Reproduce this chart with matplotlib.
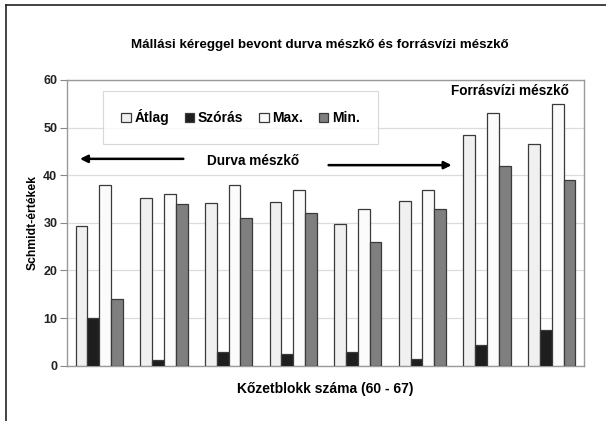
import matplotlib
matplotlib.use("Agg")
import matplotlib.pyplot as plt
import numpy as np
from matplotlib.lines import Line2D

plt.rcParams["font.family"] = ["Liberation Sans", "DejaVu Sans"]
plt.rcParams["font.weight"] = "bold"

# Schmidt values per rock block (60-67)
blocks = ["60", "61", "62", "63", "64", "65", "66", "67"]
atlag = [29.4, 35.2, 34.2, 34.4, 29.8, 34.6, 48.4, 46.6]
szoras = [10.1, 1.2, 2.9, 2.4, 2.9, 1.5, 4.3, 7.4]
maxv = [38, 36, 38, 37, 33, 37, 53, 55]
minv = [14, 34, 31, 32, 26, 33, 42, 39]

series = [
    ("Átlag", atlag, "#f0f0f0"),
    ("Szórás", szoras, "#1e1e1e"),
    ("Max.", maxv, "#fbfbfb"),
    ("Min.", minv, "#7f7f7f"),
]

W, H = 606, 421
fig = plt.figure(figsize=(W / 100, H / 100), dpi=100)
ax = fig.add_axes([67 / W, 1 - 365.7 / H, 517 / W, 285.7 / H])

x = np.arange(len(blocks))
bw = 0.183
for k, (name, vals, col) in enumerate(series):
    ax.bar(x + (k - 1.5) * bw, vals, bw, color=col, edgecolor="#3a3a3a",
           linewidth=0.9, label=name, zorder=3)

ax.set_xlim(-0.5, len(blocks) - 0.5)
ax.set_ylim(0, 60)
ax.set_yticks(range(0, 61, 10))
ax.set_xticks([])
ax.tick_params(axis="y", labelsize=9, length=5, color="#888888", width=0.8, pad=2)
for lab in ax.get_yticklabels():
    lab.set_fontweight("bold")
    lab.set_color("#222222")
ax.grid(axis="y", color="#dcdcdc", linewidth=0.9, zorder=0)
for s in ax.spines.values():
    s.set_color("#9a9a9a")
    s.set_linewidth(1.0)

ax.set_ylabel("Schmidt-értékek", fontsize=8.7, fontweight="bold", labelpad=3)
ax.set_xlabel("Kőzetblokk száma (60 - 67)", fontsize=10, fontweight="bold",
              labelpad=12)
fig.text(0.527, 1 - 45 / H, "Mállási kéreggel bevont durva mészkő és forrásvízi mészkő",
         ha="center", va="center", fontsize=9.6, fontweight="bold")

leg = ax.legend(loc="upper left", bbox_to_anchor=(0.07, 0.96, 0.531, 0.0),
                mode="expand", ncol=4, fontsize=10, frameon=True, fancybox=False,
                handlelength=0.7, handleheight=0.7, handletextpad=0.25,
                borderpad=1.3, columnspacing=0.8, borderaxespad=0)
leg.get_frame().set_edgecolor("#cfcfcf")
leg.get_frame().set_linewidth(0.8)
for t in leg.get_texts():
    t.set_fontweight("bold")

# annotations (axes-fraction positions)
ax.annotate("", xy=(0.025, 0.724), xytext=(0.225, 0.724), xycoords="axes fraction",
            arrowprops=dict(arrowstyle="-|>", color="black", lw=1.8,
                            mutation_scale=11, shrinkA=0, shrinkB=0))
ax.annotate("", xy=(0.744, 0.702), xytext=(0.506, 0.702), xycoords="axes fraction",
            arrowprops=dict(arrowstyle="-|>", color="black", lw=1.8,
                            mutation_scale=11, shrinkA=0, shrinkB=0))
ax.text(0.36, 0.716, "Durva mészkő", transform=ax.transAxes, ha="center",
        va="center", fontsize=9.8, fontweight="bold")
ax.text(0.97, 0.96, "Forrásvízi mészkő", transform=ax.transAxes, ha="right",
        va="center", fontsize=9.8, fontweight="bold")

# outer frame (left and top edges visible)
fig.add_artist(Line2D([6 / W, 6 / W], [0, 1 - 5 / H], color="#222222", lw=1.2))
fig.add_artist(Line2D([6 / W, 1], [1 - 5 / H, 1 - 5 / H], color="#222222", lw=1.2))

fig.savefig("out.png", dpi=100)
